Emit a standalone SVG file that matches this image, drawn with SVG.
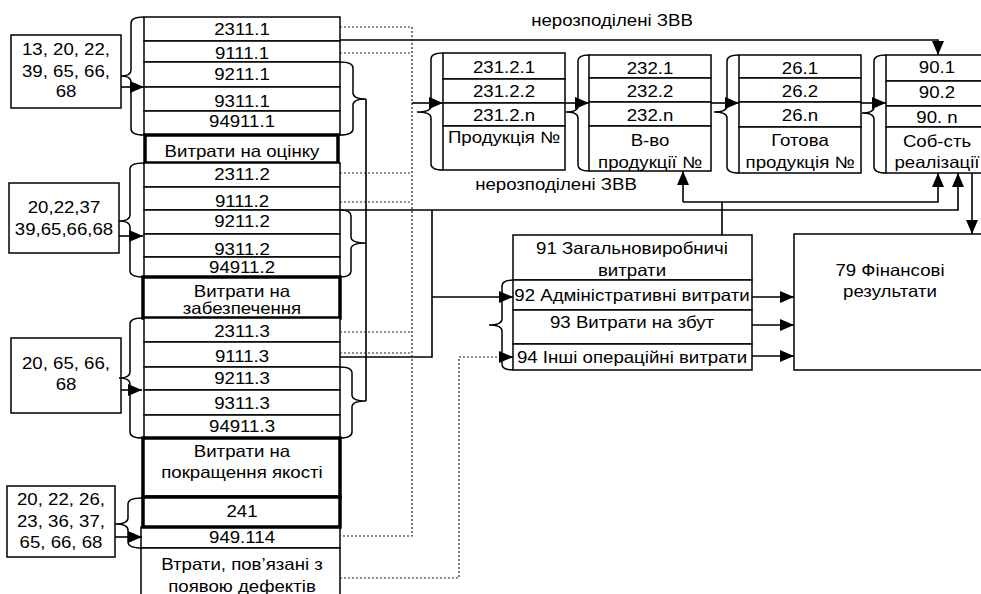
<svg xmlns="http://www.w3.org/2000/svg" width="981" height="594" viewBox="0 0 981 594">
<defs>
<marker id="ah" markerUnits="userSpaceOnUse" markerWidth="14" markerHeight="12" refX="14" refY="6" orient="auto">
<path d="M0,0 L14,6 L0,12 z" fill="#000"/>
</marker>
<style>
rect{fill:#fff;stroke:#000;stroke-width:1.5}
rect.thick{stroke-width:3.5}
.br{fill:none;stroke:#000;stroke-width:1.5}
text{font-family:"Liberation Sans",Arial,sans-serif;font-size:16.5px;fill:#000;text-anchor:middle}
.c{fill:none;stroke:#000;stroke-width:1.6}
.a{marker-end:url(#ah)}
.d{fill:none;stroke:#222;stroke-width:1.2;stroke-dasharray:2,2}
</style>
</defs>
<rect x="0" y="0" width="981" height="594" style="stroke:none;fill:#fff"/>

<!-- left source boxes -->
<g id="src1">
<rect x="11" y="35" width="110" height="73"/>
<text transform="translate(66,55) scale(1.13,1)">13, 20, 22,</text>
<text transform="translate(66,77) scale(1.13,1)">39, 65, 66,</text>
<text transform="translate(66,97) scale(1.13,1)">68</text>
</g>
<g id="src2">
<rect x="9" y="183" width="110" height="70"/>
<text transform="translate(64,213) scale(1.13,1)">20,22,37</text>
<text transform="translate(64,235) scale(1.13,1)">39,65,66,68</text>
</g>
<g id="src3">
<rect x="11" y="338" width="110" height="75"/>
<text transform="translate(66,369) scale(1.13,1)">20, 65, 66,</text>
<text transform="translate(66,390) scale(1.13,1)">68</text>
</g>
<g id="src4">
<rect x="7" y="486" width="108" height="71"/>
<text transform="translate(61,505) scale(1.13,1)">20, 22, 26,</text>
<text transform="translate(61,527) scale(1.13,1)">23, 36, 37,</text>
<text transform="translate(61,548) scale(1.13,1)">65, 66, 68</text>
</g>

<!-- column group 1 -->
<g id="grp1">
<rect x="144" y="17" width="196" height="24"/>
<rect x="144" y="41" width="196" height="21"/>
<rect x="144" y="62" width="196" height="25"/>
<rect x="144" y="87" width="196" height="24"/>
<rect x="144" y="111" width="196" height="24"/>
<rect class="thick" x="145" y="135" width="193" height="28"/>
<text transform="translate(242,35) scale(1.13,1)">2311.1</text>
<text transform="translate(242,59) scale(1.13,1)">9111.1</text>
<text transform="translate(242,80) scale(1.13,1)">9211.1</text>
<text transform="translate(242,107) scale(1.13,1)">9311.1</text>
<text transform="translate(242,127) scale(1.13,1)">94911.1</text>
<text transform="translate(242,157) scale(1.13,1)">Витрати на оцінку</text>
</g>
<g id="grp2">
<rect x="144" y="163" width="196" height="24"/>
<rect x="144" y="187" width="196" height="23"/>
<rect x="144" y="210" width="196" height="24"/>
<rect x="144" y="234" width="196" height="23"/>
<rect x="144" y="257" width="196" height="20"/>
<rect class="thick" x="143" y="277" width="197" height="41"/>
<text transform="translate(242,180) scale(1.13,1)">2311.2</text>
<text transform="translate(242,207) scale(1.13,1)">9111.2</text>
<text transform="translate(242,227) scale(1.13,1)">9211.2</text>
<text transform="translate(242,255) scale(1.13,1)">9311.2</text>
<text transform="translate(242,273) scale(1.13,1)">94911.2</text>
<text transform="translate(242,297) scale(1.13,1)">Витрати на</text>
<text transform="translate(242,314) scale(1.13,1)">забезпечення</text>
</g>
<g id="grp3">
<rect x="144" y="318" width="196" height="24"/>
<rect x="144" y="342" width="196" height="25"/>
<rect x="144" y="367" width="196" height="23"/>
<rect x="144" y="390" width="196" height="25"/>
<rect x="144" y="415" width="196" height="23"/>
<rect class="thick" x="143" y="438" width="197" height="59"/>
<text transform="translate(242,337) scale(1.13,1)">2311.3</text>
<text transform="translate(242,362) scale(1.13,1)">9111.3</text>
<text transform="translate(242,384) scale(1.13,1)">9211.3</text>
<text transform="translate(242,409) scale(1.13,1)">9311.3</text>
<text transform="translate(242,432) scale(1.13,1)">94911.3</text>
<text transform="translate(242,457) scale(1.13,1)">Витрати на</text>
<text transform="translate(242,478) scale(1.13,1)">покращення якості</text>
</g>
<g id="grp4">
<rect x="141" y="527" width="199" height="21"/>
<rect x="141" y="548" width="199" height="60"/>
<rect class="thick" x="143" y="497" width="197" height="30"/>
<text transform="translate(242,517) scale(1.13,1)">241</text>
<text transform="translate(242,543) scale(1.13,1)">949.114</text>
<text transform="translate(242,570) scale(1.13,1)">Втрати, пов’язані з</text>
<text transform="translate(242,592) scale(1.13,1)">появою дефектів</text>
</g>

<!-- top boxes -->
<g id="boxA">
<rect x="443" y="53" width="122" height="26"/>
<rect x="443" y="79" width="122" height="24"/>
<rect x="443" y="103" width="122" height="23"/>
<rect x="443" y="126" width="122" height="44"/>
<text transform="translate(504,73) scale(1.13,1)">231.2.1</text>
<text transform="translate(504,97) scale(1.13,1)">231.2.2</text>
<text transform="translate(504,121) scale(1.13,1)">231.2.n</text>
<text transform="translate(504,143) scale(1.13,1)">Продукція №</text>
</g>
<g id="boxB">
<rect x="589" y="55" width="122" height="23"/>
<rect x="589" y="78" width="122" height="24"/>
<rect x="589" y="102" width="122" height="24"/>
<rect x="589" y="126" width="122" height="45"/>
<text transform="translate(650,74) scale(1.13,1)">232.1</text>
<text transform="translate(650,97) scale(1.13,1)">232.2</text>
<text transform="translate(650,121) scale(1.13,1)">232.n</text>
<text transform="translate(650,146) scale(1.13,1)">В-во</text>
<text transform="translate(650,168) scale(1.13,1)">продукції №</text>
</g>
<g id="boxC">
<rect x="739" y="55" width="122" height="23"/>
<rect x="739" y="78" width="122" height="24"/>
<rect x="739" y="102" width="122" height="25"/>
<rect x="739" y="127" width="122" height="46"/>
<text transform="translate(800,74) scale(1.13,1)">26.1</text>
<text transform="translate(800,97) scale(1.13,1)">26.2</text>
<text transform="translate(800,121) scale(1.13,1)">26.n</text>
<text transform="translate(800,146) scale(1.13,1)">Готова</text>
<text transform="translate(800,168) scale(1.13,1)">продукція №</text>
</g>
<g id="boxD">
<rect x="886" y="55" width="103" height="26"/>
<rect x="886" y="81" width="103" height="25"/>
<rect x="886" y="106" width="103" height="21"/>
<rect x="886" y="127" width="103" height="46"/>
<text transform="translate(937,73) scale(1.13,1)">90.1</text>
<text transform="translate(937,98) scale(1.13,1)">90.2</text>
<text transform="translate(937,123) scale(1.13,1)">90. n</text>
<text transform="translate(937,147) scale(1.13,1)">Соб-сть</text>
<text transform="translate(937,168) scale(1.13,1)">реалізації</text>
</g>

<!-- expense accounts -->
<g id="box91">
<rect x="513" y="235" width="239" height="45"/>
<rect x="513" y="280" width="239" height="30"/>
<rect x="513" y="310" width="239" height="34"/>
<rect x="513" y="344" width="239" height="26"/>
<text transform="translate(632,254) scale(1.13,1)">91 Загальновиробничі</text>
<text transform="translate(632,276) scale(1.13,1)">витрати</text>
<text transform="translate(632,301) scale(1.13,1)">92 Адміністративні витрати</text>
<text transform="translate(632,328) scale(1.13,1)">93 Витрати на збут</text>
<text transform="translate(632,363) scale(1.13,1)">94 Інші операційні витрати</text>
</g>
<g id="box79">
<rect x="794" y="234" width="196" height="136"/>
<text transform="translate(890,276) scale(1.13,1)">79 Фінансові</text>
<text transform="translate(890,297) scale(1.13,1)">результати</text>
</g>

<!-- labels -->
<g id="labels">
<text transform="translate(612,26) scale(1.13,1)">нерозподілені ЗВВ</text>
<text transform="translate(556,190) scale(1.13,1)">нерозподілені ЗВВ</text>
</g>

<!-- braces and connectors -->
<g id="connectors">
<path class="br" d="M144,17 Q131,17 131,23 L131,70 Q131,76 121,76 Q131,76 131,82 L131,129 Q131,135 144,135"/>
<path class="br" d="M144,163 Q130,163 130,169 L130,215 Q130,221 119,221 Q130,221 130,227 L130,271 Q130,277 144,277"/>
<path class="br" d="M142,318 Q130,318 130,324 L130,372 Q130,378 119,378 Q130,378 130,384 L130,432 Q130,438 142,438"/>
<path class="br" d="M142,498 Q128,498 128,504 L128,518 Q128,524 115,524 Q128,524 128,530 L128,542 Q128,548 142,548"/>
<path class="br" d="M340,62 Q353,62 353,68 L353,93 Q353,99 366,99 Q353,99 353,105 L353,129 Q353,135 340,135"/>
<path class="br" d="M340,210 Q351,210 351,216 L351,237 Q351,243 366,243 Q351,243 351,249 L351,271 Q351,277 340,277"/>
<path class="br" d="M340,367 Q352,367 352,373 L352,395 Q352,401 366,401 Q352,401 352,407 L352,432 Q352,438 340,438"/>
<path class="br" d="M443,53 Q431,53 431,59 L431,106 Q431,112 417,112 Q431,112 431,118 L431,164 Q431,170 443,170"/>
<path class="br" d="M589,55 Q578,55 578,61 L578,106 Q578,112 566,112 Q578,112 578,118 L578,165 Q578,171 589,171"/>
<path class="br" d="M739,55 Q727,55 727,61 L727,106 Q727,112 714,112 Q727,112 727,118 L727,167 Q727,173 739,173"/>
<path class="br" d="M886,55 Q874,55 874,61 L874,107 Q874,113 862,113 Q874,113 874,119 L874,167 Q874,173 886,173"/>
<path class="br" d="M513,280 Q502,280 502,286 L502,319 Q502,325 489,325 Q502,325 502,331 L502,364 Q502,370 513,370"/>

<path class="c a" d="M121,87 L144,87"/>
<path class="c a" d="M119,236 L143,236"/>
<path class="c a" d="M121,390 L142,390"/>
<path class="c a" d="M115,537 L142,537"/>

<path class="c" d="M366,99 L366,401"/>

<path class="c a" d="M340,40 L938,40 L938,55"/>
<path class="c a" d="M412,103 L443,103"/>
<path class="c a" d="M565,103 L589,103"/>
<path class="c a" d="M711,103 L739,103"/>
<path class="c a" d="M861,103 L886,103"/>

<path class="c" d="M722,235 L722,202"/>
<path class="c a" d="M683,202 L683,171"/>
<path class="c a" d="M683,202 L938,202 L938,173"/>
<path class="c a" d="M340,210 L958,210 L958,173"/>
<path class="c a" d="M972,173 L972,234"/>

<path class="c" d="M340,357 L432,357 L432,210"/>
<path class="c a" d="M432,297 L513,297"/>
<path class="c a" d="M752,297 L794,297"/>
<path class="c a" d="M752,325 L794,325"/>
<path class="c a" d="M752,356 L794,356"/>

<path class="d" d="M340,27 L412,27 L412,536 L340,536"/>
<path class="d" d="M340,53 L412,53"/>
<path class="d" d="M340,173 L412,173"/>
<path class="d" d="M340,202 L412,202"/>
<path class="d" d="M340,332 L412,332"/>
<path class="d" d="M340,353 L412,353"/>
<path class="d" d="M340,578 L459,578 L459,357 L500,357"/>
<path class="c a" d="M499,357 L513,357"/>
</g>
</svg>
